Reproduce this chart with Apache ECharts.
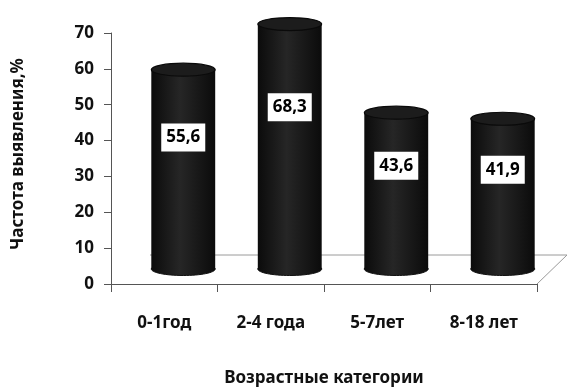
<!DOCTYPE html>
<html>
<head>
<meta charset="utf-8">
<script src="https://cdn.jsdelivr.net/npm/echarts@6/dist/echarts.min.js"></script>
<style>
  html, body { margin: 0; padding: 0; background: #fff; }
  #chart { width: 571px; height: 387px; }
</style>
</head>
<body>
<div id="chart"></div>
<script>
// Age groups and detection frequency (%)
const categories = ['0-1год', '2-4 года', '5-7лет', '8-18 лет'];
const values = [55.6, 68.3, 43.6, 41.9];
const yTicks = [0, 10, 20, 30, 40, 50, 60, 70];
const yTitle = 'Частота выявления,%';
const xTitle = 'Возрастные категории';

const FONT = '"Noto Sans", "Open Sans", sans-serif';

const chart = echarts.init(document.getElementById('chart'), null, { renderer: 'canvas' });

// Cylinder: body rectangle with a horizontal shading gradient, bottom and top ellipses
function renderCylinder(params, api) {
  const idx = api.value(0);
  const v = api.value(1);
  const top = api.coord([idx, v]);
  const base = api.coord([idx, 0]);
  const w = api.size([1, 0])[0] * 0.6;
  const rx = w / 2;
  const ry = 6.5;
  const bodyFill = {
    type: 'linear', x: 0, y: 0, x2: 1, y2: 0,
    colorStops: [
      { offset: 0, color: '#0b0b0b' },
      { offset: 0.45, color: '#262626' },
      { offset: 1, color: '#0b0b0b' }
    ]
  };
  const text = String(v).replace('.', ',');
  return {
    type: 'group',
    children: [
      {
        type: 'ellipse',
        shape: { cx: base[0], cy: base[1], rx: rx, ry: ry },
        style: { fill: bodyFill, stroke: '#111', lineWidth: 1 }
      },
      {
        type: 'rect',
        shape: { x: base[0] - rx, y: top[1], width: w, height: base[1] - top[1] },
        style: { fill: bodyFill },
        textContent: {
          style: {
            text: text,
            fill: '#000',
            font: 'bold 17px ' + FONT,
            backgroundColor: '#fff',
            padding: [6, 5, 5, 5],
            align: 'center',
            verticalAlign: 'middle'
          }
        },
        textConfig: { position: ['50%', '34%'] }
      },
      {
        type: 'ellipse',
        shape: { cx: top[0], cy: top[1], rx: rx, ry: ry },
        style: { fill: '#1c1c1c', stroke: '#0a0a0a', lineWidth: 1.2 }
      }
    ]
  };
}

const option = {
  backgroundColor: '#fff',
  animation: false,
  grid: [
    { left: 111, right: 34, top: 33, bottom: 103, outerBoundsMode: 'none' },
    // depth-shifted plane on which the cylinders stand
    { left: 130, right: 15, top: 18, bottom: 118, outerBoundsMode: 'none' }
  ],
  xAxis: [
    {
      type: 'category',
      gridIndex: 0,
      data: categories,
      boundaryGap: true,
      axisLine: { lineStyle: { color: '#555', width: 1 } },
      axisTick: { show: true, length: 8, lineStyle: { color: '#555' } },
      axisLabel: {
        margin: 31,
        color: '#111',
        fontFamily: FONT,
        fontWeight: 'bold',
        fontSize: 17
      },
      name: xTitle,
      nameLocation: 'middle',
      nameGap: 86,
      nameTextStyle: {
        color: '#111',
        fontFamily: FONT,
        fontWeight: 'bold',
        fontSize: 17
      }
    },
    {
      type: 'category',
      gridIndex: 1,
      data: categories,
      show: false
    }
  ],
  yAxis: [
    {
      type: 'value',
      gridIndex: 0,
      min: yTicks[0],
      max: yTicks[yTicks.length - 1],
      interval: 10,
      axisLine: { show: true, lineStyle: { color: '#555', width: 1 } },
      axisTick: { show: true, length: 7, lineStyle: { color: '#555' } },
      splitLine: { show: false },
      axisLabel: {
        margin: 17,
        color: '#111',
        fontFamily: FONT,
        fontWeight: 'bold',
        fontSize: 17
      }
    },
    {
      type: 'value',
      gridIndex: 1,
      min: yTicks[0],
      max: yTicks[yTicks.length - 1],
      interval: 10,
      show: false
    }
  ],
  graphic: [
    // floor: back edge and right side edge
    {
      type: 'polyline',
      z: 0,
      shape: { points: [[150, 255], [567, 255], [537, 284]] },
      style: { stroke: '#9a9a9a', lineWidth: 1, fill: null }
    },
    // value axis title
    {
      type: 'text',
      x: 18,
      y: 154,
      rotation: Math.PI / 2,
      style: {
        text: yTitle,
        fill: '#111',
        font: 'bold 17px ' + FONT,
        align: 'center',
        verticalAlign: 'middle'
      }
    }
  ],
  series: [
    {
      type: 'custom',
      xAxisIndex: 1,
      yAxisIndex: 1,
      z: 5,
      renderItem: renderCylinder,
      data: values.map((v, i) => [i, v])
    }
  ]
};

chart.setOption(option);
</script>
</body>
</html>
